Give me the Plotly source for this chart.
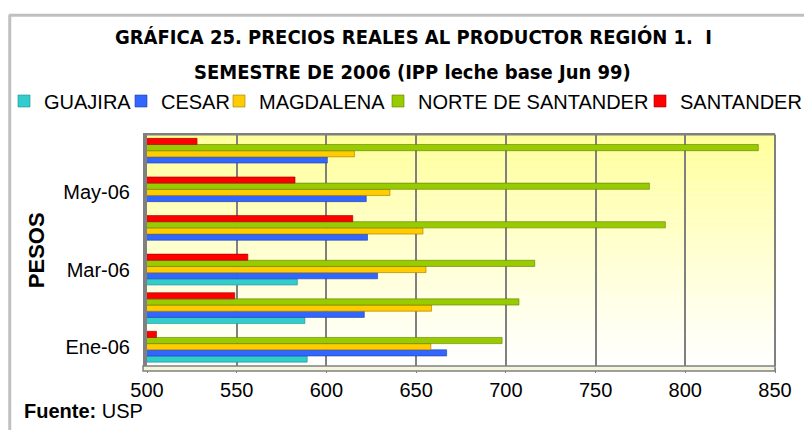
import plotly.graph_objects as go

months = ["Ene-06", "Feb-06", "Mar-06", "Abr-06", "May-06", "Jun-06"]
tick_labels = ["Ene-06", "Mar-06", "May-06"]
x_ticks = [500, 550, 600, 650, 700, 750, 800, 850]

series_names = ["GUAJIRA", "CESAR", "MAGDALENA", "NORTE DE SANTANDER", "SANTANDER"]
guajira = [589.3, 588.0, 583.8, None, None, None]
cesar = [667.0, 621.1, 628.5, 622.9, 622.2, 600.5]
magdalena = [658.2, 658.6, 655.5, 653.8, 635.4, 615.6]
norte = [697.9, 707.3, 716.1, 788.9, 780.0, 840.7]
santander = [505.3, 548.9, 556.2, 614.7, 582.5, 527.9]

series_values = [guajira, cesar, magdalena, norte, santander]
colors = ["#33CCCC", "#3366FF", "#FFCC00", "#99CC00", "#FF0000"]
edge_colors = ["#1F8F8F", "#1A3F9F", "#A07800", "#5E7D00", "#A00000"]

W, H = 804, 430
L, R, T, B = 147, 21, 131, 64
pw, ph = W - L - R, H - T - B


def px_x(px):
    return (px - L) / pw


def px_y(py):
    return (H - B - py) / ph


fig = go.Figure()
legend_text_x = [43, 160, 258, 417, 679]
for i, (name, vals) in enumerate(zip(series_names, series_values)):
    lg = "legend" if i == 0 else f"legend{i + 1}"
    fig.add_trace(go.Bar(
        y=months, x=vals, name=name, orientation="h",
        marker=dict(color=colors[i], line=dict(color=edge_colors[i], width=0.6)),
        legend=lg, showlegend=True,
    ))

legend_font = dict(family="Liberation Sans, Arial, sans-serif", size=20, color="#000000")
legend_layouts = {}
for i in range(5):
    key = "legend" if i == 0 else f"legend{i + 1}"
    legend_layouts[key] = dict(
        x=(legend_text_x[i] - 39) / W, xref="container", xanchor="left",
        y=1 - 101 / H, yref="container", yanchor="middle",
        orientation="h", font=legend_font, bgcolor="rgba(0,0,0,0)",
        borderwidth=0, itemclick=False, tracegroupgap=0,
    )

# gradient background bands
shapes = []
n = 40
for k in range(n):
    t0 = k / n
    t1 = (k + 1) / n
    f = (k + 0.5) / n  # 0 bottom -> 1 top
    b = int(round(255 - (255 - 0x99) * f ** 1.1))
    shapes.append(dict(type="rect", xref="paper", yref="paper", x0=0, x1=1, y0=t0, y1=t1,
                       fillcolor=f"rgb(255,255,{b})", line=dict(width=0), layer="below"))

# outer chart border (left and top)
shapes.append(dict(type="line", xref="paper", yref="paper", x0=px_x(8), x1=px_x(8), y0=px_y(10), y1=px_y(440),
                   line=dict(color="#C0C0C0", width=3)))
shapes.append(dict(type="line", xref="paper", yref="paper", x0=px_x(7), x1=px_x(820), y0=px_y(10), y1=px_y(10),
                   line=dict(color="#C0C0C0", width=3)))
# floor strip
shapes.append(dict(type="rect", xref="paper", yref="paper", x0=px_x(143), x1=px_x(783), y0=px_y(371), y1=px_y(366),
                   fillcolor="#F5F5DC", line=dict(color="#808080", width=1.5)))

title_font = dict(family="Liberation Sans Narrow, Arial Narrow, DejaVu Sans Condensed, Liberation Sans", size=20, color="#000000")
annotations = [
    dict(text="<b>GRÁFICA 25. PRECIOS REALES AL PRODUCTOR REGIÓN 1.  I</b>", xref="paper", yref="paper",
         x=px_x(417), y=px_y(32), xanchor="center", yanchor="middle", showarrow=False, font=title_font),
    dict(text="<b>SEMESTRE DE 2006 (IPP leche base Jun 99)</b>", xref="paper", yref="paper",
         x=px_x(416), y=px_y(68), xanchor="center", yanchor="middle", showarrow=False, font=title_font),
    dict(text="<b>PESOS</b>", xref="paper", yref="paper", x=px_x(35), y=px_y(248), textangle=-90,
         xanchor="center", yanchor="middle", showarrow=False,
         font=dict(family="Liberation Sans, Arial, sans-serif", size=22, color="#000000")),
    dict(text="<b>Fuente:</b> USP", xref="paper", yref="paper", x=px_x(20), y=px_y(412),
         xanchor="left", yanchor="middle", showarrow=False,
         font=dict(family="Liberation Sans, Arial, sans-serif", size=20, color="#000000")),
]

fig.update_layout(
    width=W, height=H, showlegend=True,
    margin=dict(l=L, r=R, t=T, b=B, pad=0),
    paper_bgcolor="#FFFFFF", plot_bgcolor="rgba(0,0,0,0)",
    barmode="group", bargap=0.2, bargroupgap=0,
    shapes=shapes, annotations=annotations,
    font=dict(family="Liberation Sans, Arial, sans-serif", size=20, color="#000000"),
    **legend_layouts,
)
fig.update_xaxes(range=[500, 850], tickvals=x_ticks, showgrid=True, gridcolor="#808080", gridwidth=2,
                 showline=True, linecolor="#808080", linewidth=2, mirror=True,
                 ticks="outside", ticklen=5, tickcolor="#808080", zeroline=False,
                 tickfont=dict(size=20))
fig.update_yaxes(categoryorder="array", categoryarray=months, tickmode="array", tickvals=tick_labels,
                 ticktext=tick_labels, showgrid=False, showline=True, linecolor="#808080", linewidth=4,
                 mirror=False, ticks="", ticklabelstandoff=9, tickfont=dict(size=20))
# right / top border of plot area
fig.add_shape(type="line", xref="paper", yref="paper", x0=1, x1=1, y0=0, y1=1, line=dict(color="#808080", width=2))
fig.add_shape(type="line", xref="paper", yref="paper", x0=0, x1=1, y0=1, y1=1, line=dict(color="#808080", width=2))

fig.write_html("out.html", config={"displayModeBar": False},
               post_script="document.body.style.margin='0';document.body.style.overflow='hidden';")
